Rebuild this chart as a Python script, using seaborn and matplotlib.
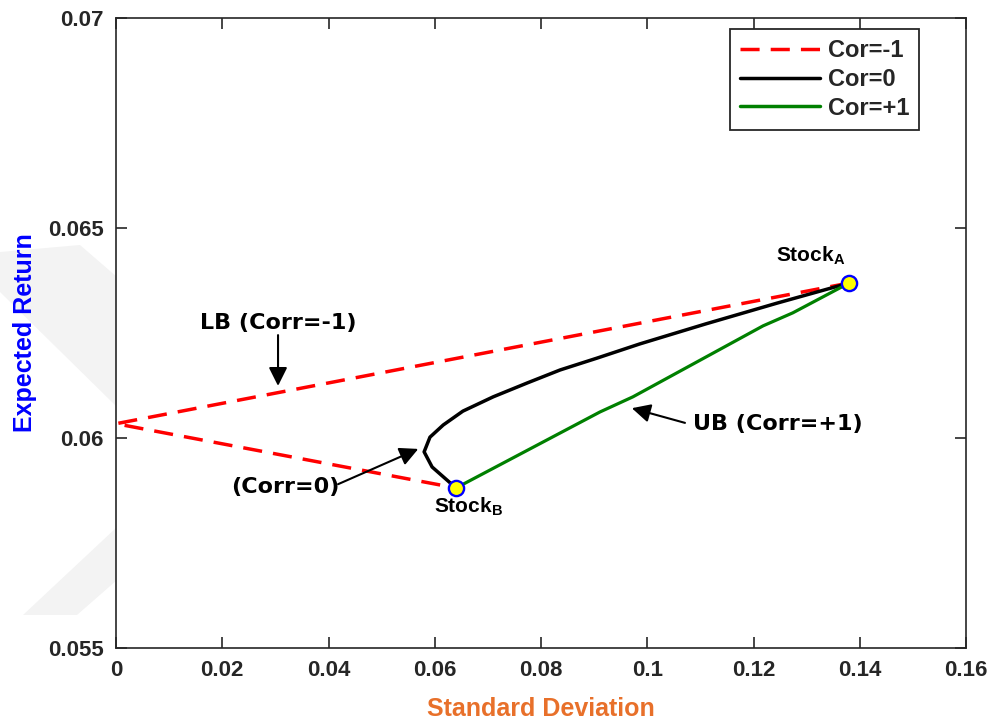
import matplotlib
matplotlib.use("Agg")
import matplotlib.pyplot as plt
from matplotlib.patches import Polygon
from matplotlib.lines import Line2D
import seaborn as sns
import pandas as pd

# ---------------- data ----------------
stock_names = ["A", "B"]
stock_sd = [0.1380, 0.0640]
stock_ret = [0.06369, 0.05881]

neg_sd = [0.1380, 0.0000, 0.0640]           # Cor = -1
neg_ret = [0.06369, 0.06034, 0.05881]

zero_sd = [0.0640, 0.0595, 0.0580, 0.0591, 0.0616, 0.0653, 0.0710,
           0.0774, 0.0836, 0.0905, 0.0986, 0.1111, 0.1244, 0.1380]   # Cor = 0
zero_ret = [0.05881, 0.05931, 0.05967, 0.06002, 0.06031, 0.06064, 0.06098,
            0.06131, 0.06162, 0.06190, 0.06224, 0.06272, 0.06321, 0.06369]

pos_sd = [0.0640, 0.0911, 0.0973, 0.1218, 0.1274, 0.1380]   # Cor = +1
pos_ret = [0.05881, 0.06062, 0.06098, 0.06267, 0.06298, 0.06369]

series_labels = ["Cor=-1", "Cor=0", "Cor=+1"]
x_ticks = [0, 0.02, 0.04, 0.06, 0.08, 0.1, 0.12, 0.14, 0.16]
x_ticklabels = ["0", "0.02", "0.04", "0.06", "0.08", "0.1", "0.12", "0.14", "0.16"]
y_ticks = [0.055, 0.06, 0.065, 0.07]
y_ticklabels = ["0.055", "0.06", "0.065", "0.07"]

# ---------------- style ----------------
sns.set_theme(style="white")
plt.rcParams["font.family"] = ["Liberation Sans", "DejaVu Sans"]
plt.rcParams["mathtext.fontset"] = "custom"
plt.rcParams["mathtext.rm"] = "Liberation Sans"
plt.rcParams["mathtext.bf"] = "Liberation Sans:bold"

W, H = 992, 720
fig = plt.figure(figsize=(W / 100, H / 100), dpi=100)
fig.patch.set_facecolor("white")

# faint watermark in left margin
def px(x, y):
    return (x / W, 1 - y / H)

wm_col = "#f3f3f3"
fig.patches.append(Polygon([px(0, 252), px(80, 245), px(117, 277), px(117, 407), px(0, 292)],
                           closed=True, transform=fig.transFigure, facecolor=wm_col,
                           edgecolor="none", zorder=-5))
fig.patches.append(Polygon([px(23, 615), px(77, 615), px(117, 580), px(117, 527)],
                           closed=True, transform=fig.transFigure, facecolor=wm_col,
                           edgecolor="none", zorder=-5))

ax = fig.add_axes([116 / W, 72 / H, 850 / W, 630 / H])
ax.set_facecolor("white")

df_neg = pd.DataFrame({"sd": neg_sd, "ret": neg_ret})
df_zero = pd.DataFrame({"sd": zero_sd, "ret": zero_ret})
df_pos = pd.DataFrame({"sd": pos_sd, "ret": pos_ret})

red, black, green = "#ff0000", "#000000", "#008000"

sns.lineplot(data=df_neg, x="sd", y="ret", sort=False, estimator=None, ax=ax,
             color=red, lw=2.5, zorder=2)
ax.lines[-1].set_dashes((5.5, 3.2))
sns.lineplot(data=df_zero, x="sd", y="ret", sort=False, estimator=None, ax=ax,
             color=black, lw=2.5, zorder=3)
sns.lineplot(data=df_pos, x="sd", y="ret", sort=False, estimator=None, ax=ax,
             color=green, lw=2.3, zorder=3)

sns.scatterplot(x=stock_sd, y=stock_ret, ax=ax, s=120, color="#ffff00",
                edgecolor="#0000ff", linewidth=1.7, zorder=5)

ax.set_xlim(0, 0.16)
ax.set_ylim(0.055, 0.07)
ax.set_xticks(x_ticks)
ax.set_xticklabels(x_ticklabels)
ax.set_yticks(y_ticks)
ax.set_yticklabels(y_ticklabels)
ax.tick_params(direction="in", length=8, width=1.2, colors="#262626",
               top=True, right=True, bottom=True, left=True, labelsize=16)
ax.tick_params(axis="y", pad=9)
ax.tick_params(axis="x", pad=9)
for lab in ax.get_xticklabels() + ax.get_yticklabels():
    lab.set_fontweight("bold")
    lab.set_color("#262626")
for sp in ax.spines.values():
    sp.set_visible(True)
    sp.set_color("#262626")
    sp.set_linewidth(1.2)

ax.set_xlabel("Standard Deviation", fontsize=18, fontweight="bold", color="#e8702a", labelpad=11)
ax.set_ylabel("Expected Return", fontsize=18, fontweight="bold", color="#0000ff", labelpad=8)

# legend
handles = [Line2D([], [], color=red, lw=2.5, dashes=(5.5, 3.2)),
           Line2D([], [], color=black, lw=2.5),
           Line2D([], [], color=green, lw=2.5)]
leg = ax.legend(handles, series_labels, loc="upper right", bbox_to_anchor=(0.9447, 0.9825),
                borderaxespad=0, fancybox=False, framealpha=1, edgecolor="#262626",
                prop={"weight": "bold", "size": 17}, handlelength=3.4, handletextpad=0.3,
                labelspacing=0.25, borderpad=0.42)
leg.get_frame().set_linewidth(1.3)

# annotations
ann_font = dict(family="DejaVu Sans", fontweight="bold", fontsize=16, color="black")
arrow = dict(arrowstyle="-|>", mutation_scale=28, lw=1.5, color="black", shrinkA=0, shrinkB=0)

ax.text(0.0305, 0.06274, "LB (Corr=-1)", ha="center", va="center", **ann_font)
ax.annotate("", xy=(0.0305, 0.06124), xytext=(0.0305, 0.06245), arrowprops=arrow)

ax.text(0.0318, 0.05883, "(Corr=0)", ha="center", va="center", **ann_font)
ax.annotate("", xy=(0.0569, 0.05974), xytext=(0.0418, 0.05890), arrowprops=arrow)

ax.text(0.1246, 0.06033, "UB (Corr=+1)", ha="center", va="center", **ann_font)
ax.annotate("", xy=(0.0971, 0.06071), xytext=(0.1071, 0.06036), arrowprops=arrow)

ax.text(0.1308, 0.06419, r"$\mathbf{Stock_{A}}$", ha="center", va="baseline",
        fontsize=15, color="black")
ax.text(0.0663, 0.05821, r"$\mathbf{Stock_{B}}$", ha="center", va="baseline",
        fontsize=15, color="black")

fig.savefig("out.png", dpi=100)
